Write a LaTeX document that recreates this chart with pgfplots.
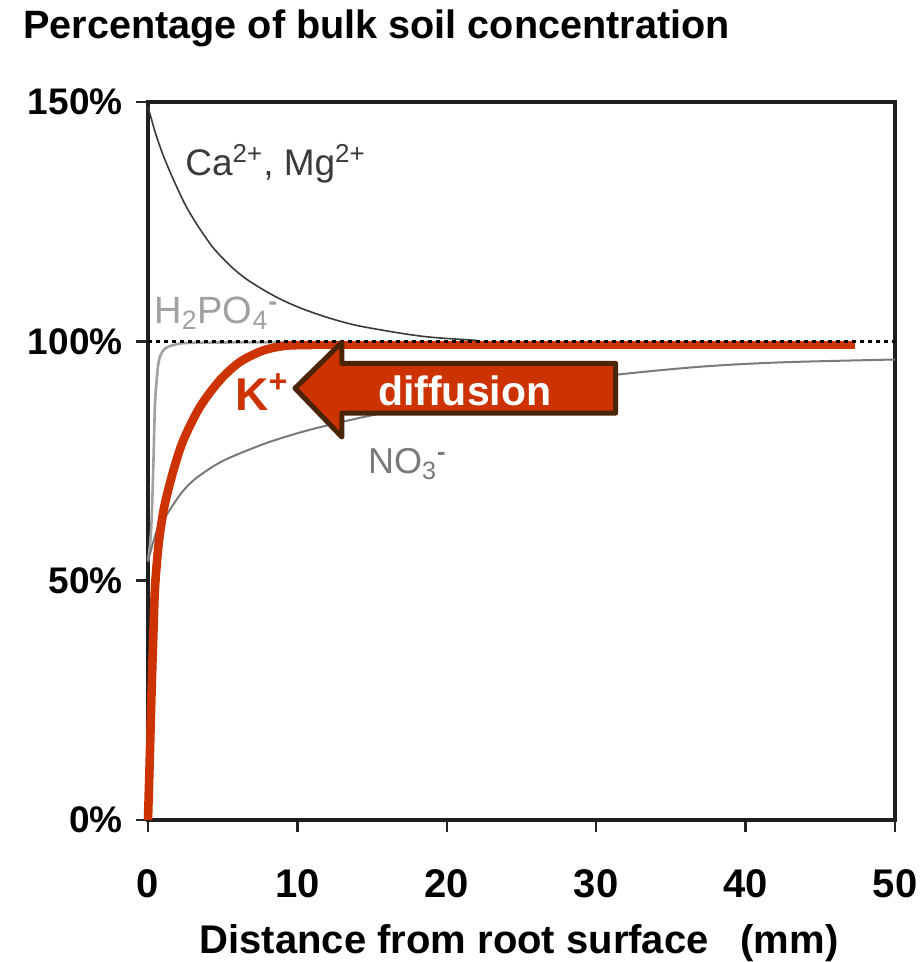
\documentclass[border=0pt]{standalone}
\usepackage{fontspec}
\setmainfont{Liberation Sans}
\usepackage{pgfplots}
\pgfplotsset{compat=1.18}
\definecolor{kred}{HTML}{CC3300}
\definecolor{arrowedge}{HTML}{4A2406}
\definecolor{cagray}{HTML}{3A3A3A}
\definecolor{pgray}{HTML}{A0A0A0}
\definecolor{ngray}{HTML}{7A7A7A}

\begin{document}
\begin{tikzpicture}
\useasboundingbox (-74pt,-71pt) rectangle (387.5pt,410pt);
\begin{axis}[
  at={(0,0)}, anchor=south west,
  scale only axis, width=373.5pt, height=359pt,
  xmin=0, xmax=50, ymin=0, ymax=150,
  xtick={0,10,20,30,40,50}, xticklabels={0,10,20,30,40,50},
  ytick={0,50,100,150}, yticklabels={0\%,50\%,100\%,150\%},
  xtick pos=bottom, ytick pos=left,
  tick align=outside, major tick length=6pt,
  major tick style={line width=1.2pt, black!85},
  axis line style={line width=1.6pt, black!88},
  ticklabel style={inner sep=0pt},
  xticklabel style={anchor=north, yshift=-18.5pt, font=\fontsize{20}{24}\selectfont\bfseries},
  yticklabel style={anchor=east, xshift=-6.5pt, font=\fontsize{18.5}{22}\selectfont\bfseries},
  title={Percentage of bulk soil concentration},
  title style={at={(axis description cs:0,1)}, anchor=base west, inner sep=0pt,
    xshift=-62.5pt, yshift=25.5pt, font=\fontsize{19.8}{24}\selectfont\bfseries},
  xlabel={Distance from root surface\hspace{0.8em}(mm)},
  xlabel style={at={(axis description cs:0.5,0)}, anchor=base, inner sep=0pt,
    xshift=-1.2pt, yshift=-66.5pt, font=\fontsize{20}{24}\selectfont\bfseries},
  clip=false,
]
% Ca2+, Mg2+
\addplot[cagray, line width=0.8pt, smooth] coordinates {
  (0,149) (0.5,143.5) (1,139) (1.67,134) (2.5,128.5) (3.3,124.3) (4.35,119.6)
  (5.5,115.8) (6.5,113.2) (7.7,110.8) (9,108.6) (10.5,106.6) (12.2,104.8)
  (14,103.3) (16.7,101.8) (18.5,101.0) (20,100.6) (22,100.2)};
% H2PO4-
\addplot[pgray, line width=1.3pt, smooth] coordinates {
  (0,54) (0.15,58) (0.25,63.3) (0.36,74.5) (0.47,87) (0.6,92.5) (0.69,95.3)
  (0.85,97.2) (1.14,98.5) (1.7,99.2) (3,99.7) (10,99.8)};
% NO3-
\addplot[ngray, line width=1pt, smooth] coordinates {
  (0,54) (0.3,57.5) (0.6,60.5) (1.03,62.6) (1.5,65) (2.36,68.8) (3.3,71.6)
  (5,75) (7.7,78.5) (10,80.8) (12.2,82.6) (14.9,84.5) (17,85.8) (20,87.6)
  (25,90.4) (31.3,93.0) (37,94.7) (42.3,95.6) (50,96.2)};
% K+
\addplot[kred, line width=4.3pt, smooth] coordinates {
  (0,0) (0.12,13) (0.24,27) (0.36,39) (0.47,48.6) (0.69,57) (0.9,62)
  (1.14,66.2) (1.7,73) (2.36,79.3) (3.48,86.3) (4.82,91.9) (6.16,95.7)
  (7.72,98.1) (9.28,99.1) (11,99.2)};
\addplot[kred, line width=4.3pt] coordinates {(11,99.2) (47.3,99.2)};
% bulk soil level
\addplot[black, line width=1.6pt, dash pattern=on 1.8pt off 2.2pt] coordinates {(0,100) (50,100)};

% diffusion arrow
\draw[fill=kred, draw=arrowedge, line width=2.5pt, line join=round]
  (axis cs:9.84,90.2) -- (axis cs:12.98,99.8) -- (axis cs:12.98,95.4)
  -- (axis cs:31.3,95.4) -- (axis cs:31.3,85.0) -- (axis cs:12.98,85.0)
  -- (axis cs:12.98,80.0) -- cycle;
\node[text=white, font=\fontsize{20.5}{24}\selectfont\bfseries] at (axis cs:21.2,89.6) {diffusion};

% curve labels
\node[anchor=base west, inner sep=0pt, text=cagray, font=\fontsize{18.5}{22}\selectfont]
  at (axis cs:2.48,134.7) {Ca\textsuperscript{2+}, Mg\textsuperscript{2+}};
\node[anchor=base west, inner sep=0pt, text=pgray, font=\fontsize{19}{22}\selectfont]
  at (axis cs:0.4,103.8) {H\textsubscript{2}PO\textsubscript{4}\textsuperscript{\textbf{-}}};
\node[anchor=base west, inner sep=0pt, text=ngray, font=\fontsize{18}{22}\selectfont]
  at (axis cs:14.7,72.4) {NO\textsubscript{3}\textsuperscript{\textbf{-}}};
\node[anchor=base west, inner sep=0pt, text=kred, font=\fontsize{23}{27}\selectfont\bfseries]
  at (axis cs:5.82,85.6) {K\textsuperscript{+}};
\end{axis}
\end{tikzpicture}
\end{document}
